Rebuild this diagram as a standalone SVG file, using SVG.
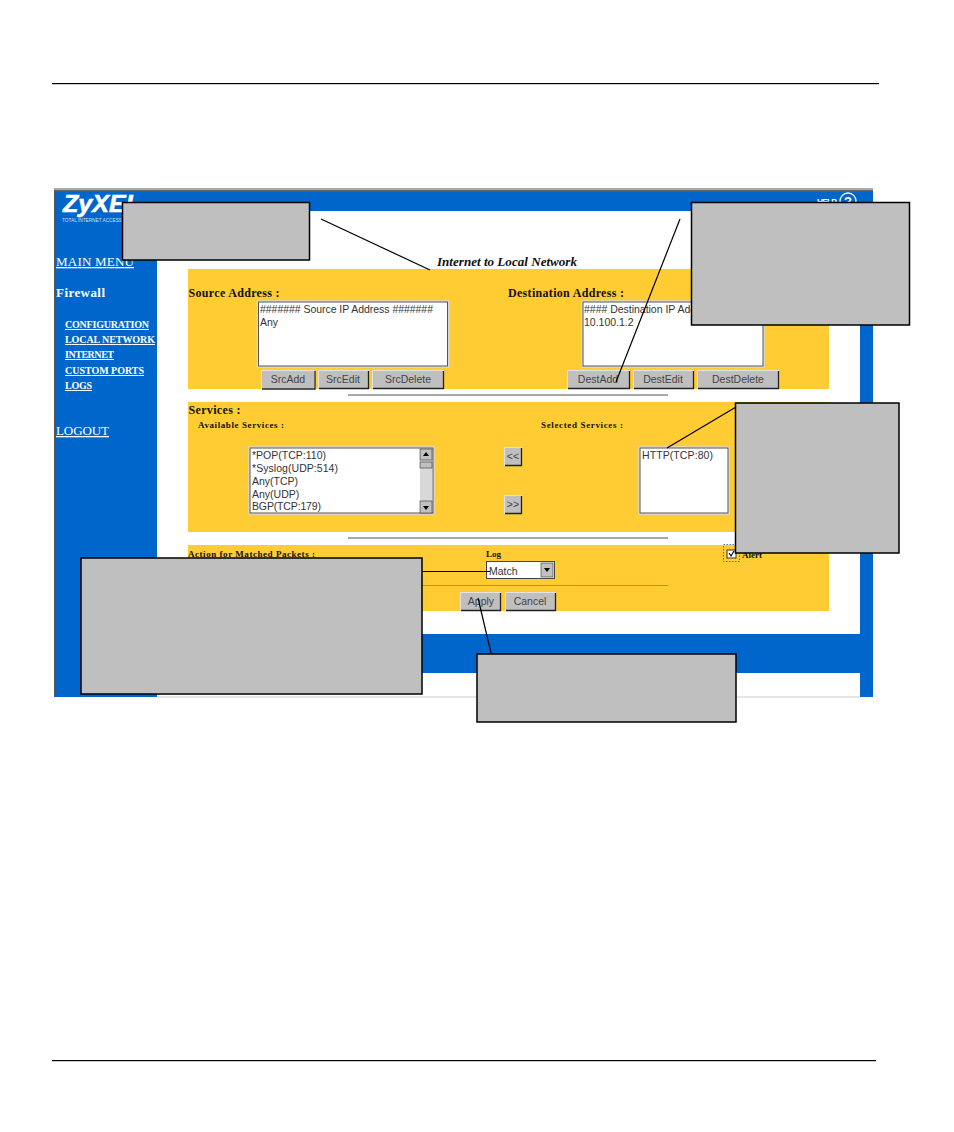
<svg xmlns="http://www.w3.org/2000/svg" width="954" height="1132" viewBox="0 0 954 1132">
<style>
.blue{fill:#0066cc}
.yel{fill:#ffcc33}
.sep{fill:#a8a8a8}
.nav{font:bold 10px "Liberation Serif",serif;fill:#fff;text-decoration:underline}
.big{font:13px "Liberation Serif",serif;fill:#fff;text-decoration:underline}
.h{font:bold 12px "Liberation Serif",serif;fill:#111}
.s{font:bold 9px "Liberation Serif",serif;fill:#111}
.f{font:10.500px "Liberation Sans",sans-serif;fill:#333}
.bt{font:10.500px "Liberation Sans",sans-serif;fill:#444;text-anchor:middle}
.btn{fill:#bfbfbf;stroke:#e4e4e4;stroke-width:1}
.shade{fill:none;stroke:#222;stroke-width:1.300}
.box{fill:#fff;stroke:#d8d8d8;stroke-width:1.500}
.inset{fill:none;stroke:#555;stroke-width:1}
.call{fill:#bfbfbf;stroke:#000;stroke-width:1.500}
.con{stroke:#000;stroke-width:1.200;fill:none}
</style>
<rect width="954" height="1132" fill="#fff"/>
<g id="page-rules">
<rect x="52" y="83" width="827" height="1.200" fill="#000"/>
<rect x="52" y="1060" width="824" height="1.200" fill="#000"/>
</g>
<g id="window">
<rect x="54" y="188" width="819" height="3" fill="#aaa"/>
<rect x="55" y="190.500" width="818" height="1.200" fill="#222"/>
<rect x="54" y="190" width="1.300" height="507" fill="#555"/>
<rect x="55" y="191.500" width="818" height="19.500" class="blue"/>
<rect x="55" y="191.500" width="102" height="505.500" class="blue"/>
<rect x="860" y="191.500" width="13" height="505.500" class="blue"/>
<rect x="157" y="634" width="703" height="39" class="blue"/>
<rect x="157" y="696.500" width="703" height="1" fill="#ccc"/>
</g>
<g id="logo">
<text x="63" y="212" font-family="Liberation Sans,sans-serif" font-weight="bold" font-style="italic" font-size="24" fill="#fff" stroke="#fff" stroke-width=".6" textLength="78" lengthAdjust="spacingAndGlyphs">ZyXEL</text>
<text x="62" y="222" font-family="Liberation Sans,sans-serif" font-size="6" fill="#cfe0f5" textLength="60" lengthAdjust="spacingAndGlyphs">TOTAL INTERNET ACCESS</text>
</g>
<g id="help">
<text x="817" y="205" font-family="Liberation Sans,sans-serif" font-weight="bold" font-size="8.500" fill="#fff" textLength="20">HELP</text>
<circle cx="848" cy="201" r="8" fill="none" stroke="#fff" stroke-width="1.300"/>
<text x="848" y="206" font-family="Liberation Sans,sans-serif" font-weight="bold" font-size="13" fill="#fff" text-anchor="middle">?</text>
</g>
<g id="sidebar">
<text class="big" x="56" y="266" textLength="78">MAIN MENU</text>
<text x="56" y="297" font-family="Liberation Serif,serif" font-weight="bold" font-size="13" fill="#fff" textLength="49">Firewall</text>
<text class="nav" x="65" y="328" textLength="84">CONFIGURATION</text>
<text class="nav" x="65" y="343" textLength="90">LOCAL NETWORK</text>
<text class="nav" x="65" y="358" textLength="49">INTERNET</text>
<text class="nav" x="65" y="374" textLength="79">CUSTOM PORTS</text>
<text class="nav" x="65" y="389" textLength="27">LOGS</text>
<text class="big" x="56" y="435" textLength="53">LOGOUT</text>
</g>
<g id="title">
<text x="437" y="266" font-family="Liberation Serif,serif" font-weight="bold" font-style="italic" font-size="12" fill="#111" textLength="140" lengthAdjust="spacingAndGlyphs">Internet to Local Network</text>
</g>
<g id="address-panel">
<rect class="yel" x="188" y="269" width="641" height="120"/>
<text class="h" x="188.500" y="297" textLength="91">Source Address :</text>
<text class="h" x="508" y="297" textLength="116">Destination Address :</text>
<rect class="box" x="257.500" y="301" width="191" height="66"/>
<rect class="inset" x="258.500" y="302" width="189" height="64"/>
<text class="f" x="260" y="313" textLength="173">####### Source IP Address #######</text>
<text class="f" x="260" y="326">Any</text>
<rect class="box" x="582" y="301" width="182" height="66"/>
<rect class="inset" x="583" y="302" width="180" height="64"/>
<text class="f" x="584" y="313" textLength="158">#### Destination IP Address ####</text>
<text class="f" x="584" y="326">10.100.1.2</text>
<rect class="btn" x="261.500" y="370.500" width="53" height="18"/>
<path class="shade" d="M262 389H315V371" stroke-width="2"/>
<text class="bt" x="288" y="383">SrcAdd</text>
<rect class="btn" x="318.500" y="370.500" width="50" height="18"/>
<path class="shade" d="M319 388.500H368.500V371"/>
<text class="bt" x="343" y="383">SrcEdit</text>
<rect class="btn" x="372.500" y="370.500" width="71" height="18"/>
<path class="shade" d="M373 388.500H443.500V371"/>
<text class="bt" x="408" y="383">SrcDelete</text>
<rect class="btn" x="567.500" y="370.500" width="62" height="18"/>
<path class="shade" d="M568 388.500H629.500V371"/>
<text class="bt" x="598" y="383">DestAdd</text>
<rect class="btn" x="633.500" y="370.500" width="60" height="18"/>
<path class="shade" d="M634 388.500H693.500V371"/>
<text class="bt" x="663" y="383">DestEdit</text>
<rect class="btn" x="697.500" y="370.500" width="81" height="18"/>
<path class="shade" d="M698 388.500H778.500V371"/>
<text class="bt" x="738" y="383">DestDelete</text>
</g>
<rect id="separator-1" class="sep" x="348" y="394" width="320" height="2"/>
<g id="services-panel">
<rect class="yel" x="188" y="402" width="641" height="130"/>
<text class="h" x="188.500" y="414" textLength="52">Services :</text>
<text class="s" x="198" y="428" textLength="86">Available Services :</text>
<text class="s" x="541" y="428" textLength="82">Selected Services :</text>
<rect class="box" x="249" y="447" width="185" height="67"/>
<rect class="inset" x="250" y="448" width="183" height="65" stroke="#888"/>
<text class="f" x="252" y="459" textLength="74">*POP(TCP:110)</text>
<text class="f" x="252" y="472" textLength="86">*Syslog(UDP:514)</text>
<text class="f" x="252" y="485">Any(TCP)</text>
<text class="f" x="252" y="498">Any(UDP)</text>
<text class="f" x="252" y="510" textLength="69">BGP(TCP:179)</text>
<rect x="420" y="449" width="12" height="64" fill="#d8d8d8"/>
<rect x="420" y="449" width="12" height="11" fill="#c0c0c0" stroke="#333" stroke-width=".6"/>
<path d="M426 452l-3 4h6z" fill="#000"/>
<rect x="420" y="462" width="12" height="6" fill="#c0c0c0" stroke="#333" stroke-width=".6"/>
<rect x="420" y="501" width="12" height="12" fill="#c0c0c0" stroke="#333" stroke-width=".6"/>
<path d="M426 510l-3-4h6z" fill="#000"/>
<rect class="btn" x="504.500" y="447.500" width="17" height="18"/>
<path class="shade" d="M505 465.500H521.500V448"/>
<text class="bt" x="513" y="460" font-weight="bold">&lt;&lt;</text>
<rect class="btn" x="504.500" y="495.500" width="17" height="18"/>
<path class="shade" d="M505 513.500H521.500V496"/>
<text class="bt" x="513" y="508" font-weight="bold">&gt;&gt;</text>
<rect class="box" x="639" y="447" width="90" height="67"/>
<rect class="inset" x="640" y="448" width="88" height="65" stroke="#888"/>
<text class="f" x="642" y="459" textLength="71">HTTP(TCP:80)</text>
</g>
<rect id="separator-2" class="sep" x="348" y="537" width="320" height="2"/>
<g id="action-panel">
<rect class="yel" x="188" y="545" width="641" height="66"/>
<text class="s" x="188" y="557" textLength="127">Action for Matched Packets :</text>
<text class="s" x="486" y="557" font-size="10">Log</text>
<rect x="486.500" y="561.500" width="68" height="17" fill="#fff" stroke="#444"/>
<text class="f" x="489" y="575">Match</text>
<rect x="541" y="563" width="12" height="14" fill="#c0c0c0" stroke="#333" stroke-width=".6"/>
<path d="M547 572l-3-4h6z" fill="#000"/>
<rect x="723.500" y="544.500" width="16" height="17" fill="none" stroke="#2255aa" stroke-width=".8" stroke-dasharray="1.500 1.500"/>
<rect x="727" y="550" width="9" height="8" fill="#fff" stroke="#333"/>
<path d="M729 553l2 3 3-5" fill="none" stroke="#000" stroke-width="1.200"/>
<text class="s" x="742" y="558">Alert</text>
<rect x="188" y="585" width="480" height="1" fill="#a89550"/>
<rect class="btn" x="460.500" y="592.500" width="40" height="18"/>
<path class="shade" d="M461 610.500H500.500V593"/>
<text class="bt" x="481" y="605">Apply</text>
<rect class="btn" x="505.500" y="592.500" width="50" height="18"/>
<path class="shade" d="M506 610.500H555.500V593"/>
<text class="bt" x="530" y="605">Cancel</text>
</g>
<g id="connectors">
<line class="con" x1="321" y1="219" x2="430" y2="270"/>
<line class="con" x1="680" y1="219" x2="616" y2="382"/>
<line class="con" x1="736" y1="407" x2="667" y2="448"/>
<line class="con" x1="422" y1="571.500" x2="490" y2="571.500"/>
<line class="con" x1="491" y1="653" x2="478" y2="598"/>
</g>
<g id="callout-1"><rect class="call" x="122.500" y="202.500" width="187" height="57.500"/></g>
<g id="callout-2"><rect class="call" x="691.500" y="202.500" width="218" height="122.500"/></g>
<g id="callout-3"><rect class="call" x="735.500" y="403" width="163.500" height="150"/></g>
<g id="callout-4"><rect class="call" x="81" y="558" width="341" height="136"/></g>
<g id="callout-5"><rect class="call" x="477" y="654" width="259" height="68"/></g>
</svg>
